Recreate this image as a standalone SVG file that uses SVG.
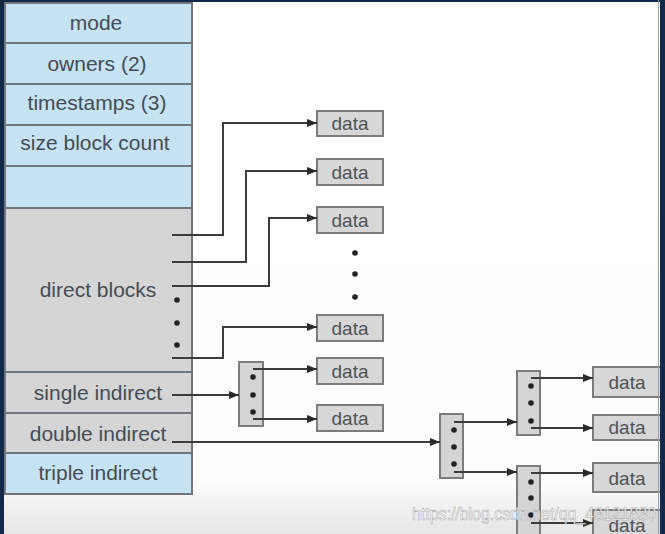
<svg xmlns="http://www.w3.org/2000/svg" width="665" height="534" viewBox="0 0 665 534">
<style>
.lbl{font-family:"Liberation Sans",Arial,sans-serif;font-size:21px;fill:#454c55;text-anchor:middle}
.dt{font-family:"Liberation Sans",Arial,sans-serif;font-size:19px;fill:#505356;text-anchor:middle}
.blue{fill:#c6e3f3;stroke:#6f767d;stroke-width:2}
.gray{fill:#d5d5d6;stroke:#6f767d;stroke-width:2}
.box{fill:#d7d7d7;stroke:#7c7c7c;stroke-width:2}
.idx{fill:#d4d4d4;stroke:#7c7c7c;stroke-width:2}
.ln{fill:none;stroke:#3c3c3c;stroke-width:2}
.dot{fill:#222}
.wm{font-family:"Liberation Sans",Arial,sans-serif;font-size:18px;fill:#ffffff;fill-opacity:0.9;stroke:#888888;stroke-width:0.6;stroke-opacity:0.7}
</style>
<defs>
<marker id="ah" viewBox="0 0 10 8" refX="10" refY="4" markerWidth="10" markerHeight="8" markerUnits="userSpaceOnUse" orient="auto">
<path d="M0,0 L10,4 L0,8 Z" fill="#2a2a2a"/>
</marker>
<linearGradient id="bg" x1="0" y1="0" x2="0" y2="1">
<stop offset="0" stop-color="#ffffff"/>
<stop offset="0.9" stop-color="#fdfdfd"/>
<stop offset="1" stop-color="#ebebeb"/>
</linearGradient>
<linearGradient id="bot" x1="0" y1="0" x2="0" y2="1">
<stop offset="0" stop-color="#f6f6f6"/>
<stop offset="1" stop-color="#e6e6e6"/>
</linearGradient>
</defs>
<rect x="0" y="0" width="665" height="534" fill="url(#bg)"/>
<rect x="0" y="494" width="665" height="40" fill="url(#bot)"/>

<g id="inode">
<rect class="blue" x="5" y="3" width="187" height="205"/>
<rect class="gray" x="5" y="208" width="187" height="245"/>
<rect class="blue" x="5" y="453" width="187" height="41"/>
<line x1="5" y1="43" x2="192" y2="43" stroke="#6f767d" stroke-width="2"/>
<line x1="5" y1="84" x2="192" y2="84" stroke="#6f767d" stroke-width="2"/>
<line x1="5" y1="125" x2="192" y2="125" stroke="#6f767d" stroke-width="2"/>
<line x1="5" y1="166" x2="192" y2="166" stroke="#6f767d" stroke-width="2"/>
<line x1="5" y1="372" x2="192" y2="372" stroke="#6f767d" stroke-width="2"/>
<line x1="5" y1="413" x2="192" y2="413" stroke="#6f767d" stroke-width="2"/>
<text class="lbl" x="96" y="30">mode</text>
<text class="lbl" x="97" y="71">owners (2)</text>
<text class="lbl" x="97" y="110">timestamps (3)</text>
<text class="lbl" x="95" y="150">size block count</text>
<text class="lbl" x="98" y="297">direct blocks</text>
<text class="lbl" x="98" y="400">single indirect</text>
<text class="lbl" x="98" y="441">double indirect</text>
<text class="lbl" x="98" y="480">triple indirect</text>
<circle class="dot" cx="177" cy="300" r="2.8"/>
<circle class="dot" cx="177" cy="323" r="2.8"/>
<circle class="dot" cx="177" cy="345" r="2.8"/>
</g>

<g id="data1"><rect class="box" x="317" y="111" width="66" height="25"/><text class="dt" x="350" y="130">data</text></g>
<g id="data2"><rect class="box" x="317" y="159" width="66" height="26"/><text class="dt" x="350" y="179">data</text></g>
<g id="data3"><rect class="box" x="317" y="207" width="66" height="26"/><text class="dt" x="350" y="227">data</text></g>
<g id="dots1">
<circle class="dot" cx="355" cy="253" r="2.8"/>
<circle class="dot" cx="355" cy="274" r="2.8"/>
<circle class="dot" cx="355" cy="297" r="2.8"/>
</g>
<g id="data4"><rect class="box" x="317" y="315" width="66" height="26"/><text class="dt" x="350" y="335">data</text></g>
<g id="data5"><rect class="box" x="317" y="358" width="66" height="26"/><text class="dt" x="350" y="378">data</text></g>
<g id="data6"><rect class="box" x="317" y="405" width="66" height="26"/><text class="dt" x="350" y="425">data</text></g>

<g id="single">
<rect class="idx" x="239" y="362" width="24" height="64"/>
<circle class="dot" cx="253" cy="377" r="2.8"/>
<circle class="dot" cx="253" cy="395" r="2.8"/>
<circle class="dot" cx="253" cy="412" r="2.8"/>
</g>
<g id="double">
<rect class="idx" x="440" y="414" width="23" height="64"/>
<circle class="dot" cx="454" cy="430" r="2.8"/>
<circle class="dot" cx="454" cy="447" r="2.8"/>
<circle class="dot" cx="454" cy="464" r="2.8"/>
</g>
<g id="double-a">
<rect class="idx" x="517" y="371" width="23" height="64"/>
<circle class="dot" cx="531" cy="386" r="2.8"/>
<circle class="dot" cx="531" cy="403" r="2.8"/>
<circle class="dot" cx="531" cy="421" r="2.8"/>
</g>
<g id="double-b">
<rect class="idx" x="517" y="466" width="23" height="80"/>
<circle class="dot" cx="531" cy="482" r="2.8"/>
<circle class="dot" cx="531" cy="498" r="2.8"/>
<circle class="dot" cx="531" cy="515" r="2.8"/>
</g>
<g id="data7"><rect class="box" x="593" y="367" width="70" height="30"/><text class="dt" x="627" y="389">data</text></g>
<g id="data8"><rect class="box" x="593" y="415" width="70" height="25"/><text class="dt" x="627" y="434">data</text></g>
<g id="data9"><rect class="box" x="593" y="463" width="70" height="29"/><text class="dt" x="627" y="485">data</text></g>
<g id="data10"><rect class="box" x="593" y="510" width="70" height="30"/><text class="dt" x="627" y="532">data</text></g>

<g id="connectors">
<path class="ln" d="M172,235 H223 V123 H317" marker-end="url(#ah)"/>
<path class="ln" d="M172,262 H246 V171 H317" marker-end="url(#ah)"/>
<path class="ln" d="M172,286 H269 V218 H317" marker-end="url(#ah)"/>
<path class="ln" d="M172,358 H223 V327 H317" marker-end="url(#ah)"/>
<path class="ln" d="M172,395 H239" marker-end="url(#ah)"/>
<path class="ln" d="M253,369 H317" marker-end="url(#ah)"/>
<path class="ln" d="M253,419 H317" marker-end="url(#ah)"/>
<path class="ln" d="M172,442 H440" marker-end="url(#ah)"/>
<path class="ln" d="M454,422 H517" marker-end="url(#ah)"/>
<path class="ln" d="M454,472 H517" marker-end="url(#ah)"/>
<path class="ln" d="M531,378 H593" marker-end="url(#ah)"/>
<path class="ln" d="M531,428 H593" marker-end="url(#ah)"/>
<path class="ln" d="M531,473 H593" marker-end="url(#ah)"/>
<path class="ln" d="M531,523 H593" marker-end="url(#ah)"/>
</g>

<text class="wm" x="412" y="520" textLength="244" lengthAdjust="spacingAndGlyphs">https://blog.csdn.net/qq_43121830</text>

<g id="frame">
<rect x="0" y="0" width="4" height="534" fill="#13294a"/>
<rect x="0" y="0" width="665" height="2" fill="#13294a"/>
<rect x="660" y="0" width="5" height="534" fill="#13294a"/>
<line x1="658.5" y1="0" x2="658.5" y2="534" stroke="#9aa0a8" stroke-width="1"/>
</g>
</svg>
